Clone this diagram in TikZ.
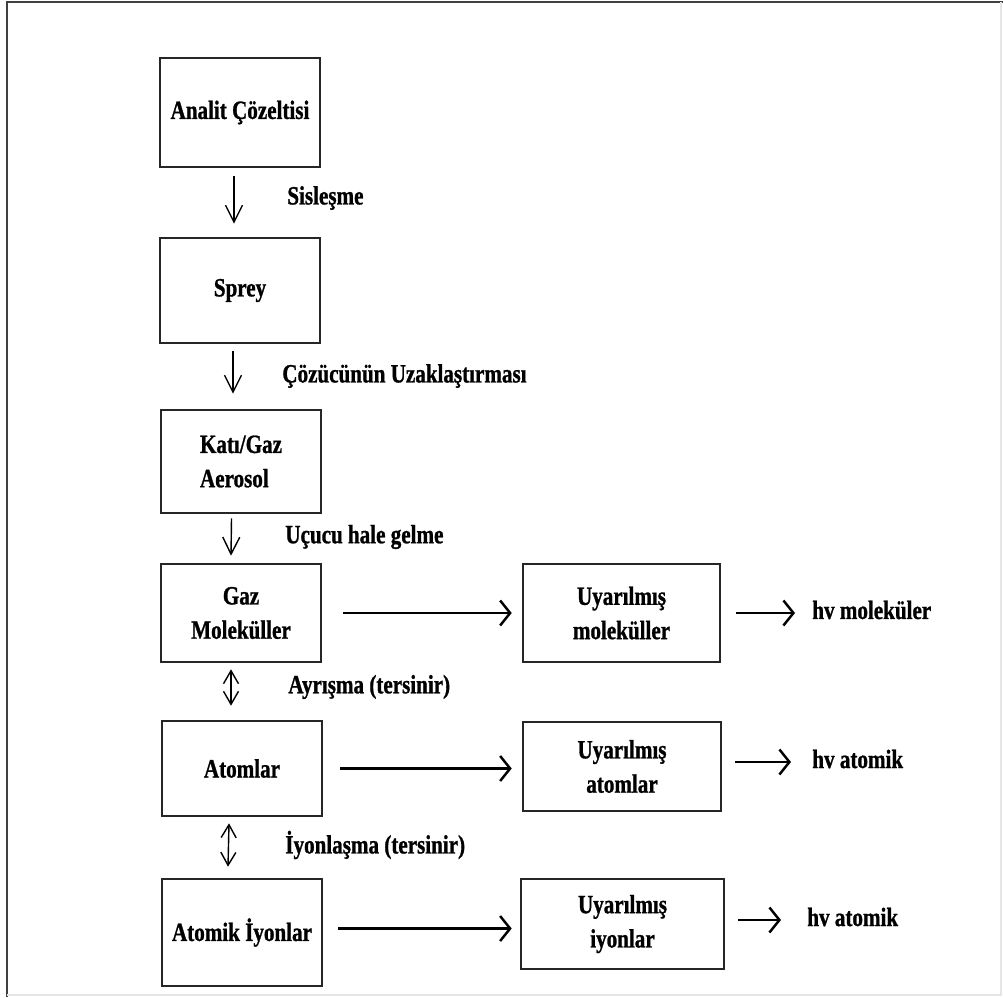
\documentclass[tikz,border=0pt]{standalone}
\usepackage{fontspec}
\setmainfont{Liberation Serif}[FakeStretch=0.8, BoldFeatures={FakeBold=1}]
\usetikzlibrary{arrows.meta,calc}

\begin{document}
\begin{tikzpicture}[
  x=0.02cm, y=-0.02cm,
  box/.style={draw=black!85, line width=1.5pt, minimum width=3.2cm,
    align=center, inner sep=2pt, font=\fontsize{15}{19.5}\selectfont\bfseries},
  lbl/.style={anchor=west, inner sep=0pt,
    font=\fontsize{15}{19.5}\selectfont\bfseries},
  varrow/.style={-{Straight Barb[length=3.4mm,width=3.4mm]}, line width=0.8pt},
  darrow/.style={{Straight Barb[length=2.6mm,width=3mm]}-{Straight Barb[length=2.6mm,width=3mm]},
    line width=0.8pt},
  harrow/.style={-{Straight Barb[length=2mm,width=5mm]}, line width=1.4pt},
]
  \useasboundingbox (0,0) rectangle (1003,997);

  % Frame
  \draw[line width=1.5pt, black!75] (7,997) -- (7,2) -- (1003,2);
  \draw[line width=0.6pt, black!10] (1001,2) -- (1001,995) -- (7,995);

  % Left column
  \node[box, minimum height=2.18cm] (analit) at (240,112.5) {Analit Çözeltisi};
  \node[box, minimum height=2.1cm] (sprey) at (240,290.5) {Sprey};
  \node[box, minimum height=2.06cm, align=left] (aerosol) at (241,461.5)
    {Katı/Gaz\\Aerosol};
  \node[box, minimum height=1.96cm] (gaz) at (241,613) {Gaz\\Moleküller};
  \node[box, minimum height=1.9cm] (atom) at (242,768.5) {Atomlar};
  \node[box, minimum height=2.14cm] (iyon) at (242,932.5) {Atomik İyonlar};

  % Right column
  \node[box, minimum width=3.94cm, minimum height=1.96cm] (umol) at (621.5,613)
    {Uyarılmış\\moleküller};
  \node[box, minimum width=3.96cm, minimum height=1.78cm] (uatom) at (622,766.5)
    {Uyarılmış\\atomlar};
  \node[box, minimum width=4.06cm, minimum height=1.8cm] (uiyon) at (622.5,924)
    {Uyarılmış\\iyonlar};

  % Step labels
  \node[lbl] (sis) at (287,198) {Sisleşme};
  \node[lbl] (coz) at (282,376) {Çözücünün Uzaklaştırması};
  \node[lbl] (ucu) at (285,537) {Uçucu hale gelme};
  \node[lbl] (ayr) at (288,687) {Ayrışma (tersinir)};
  \node[lbl] (iyl) at (285,845) {İyonlaşma (tersinir)};

  % Emission labels
  \node[lbl] (hvmol) at (812,610) {hv moleküler};
  \node[lbl] (hvatom) at (812,759) {hv atomik};
  \node[lbl] (hviyon) at (807,917) {hv atomik};

  % Vertical arrows
  \draw[varrow] ($(analit.south)+(-6,8)$) -- ($(sprey.north)+(-6,-13)$);
  \draw[varrow] ($(sprey.south)+(-7,7)$) -- ($(aerosol.north)+(-8,-15)$);
  \draw[varrow] ($(aerosol.south)+(-9.5,4)$) -- ($(gaz.north)+(-10,-7)$);
  \draw[darrow] ($(gaz.south)+(-10,6)$) -- ($(atom.north)+(-11,-14)$);
  \draw[darrow] ($(atom.south)+(-13,6)$) -- ($(iyon.north)+(-14,-11)$);

  % Horizontal arrows
  \draw[harrow] ($(gaz.east)+(21,0)$) -- ($(umol.west)+(-10,0)$);
  \draw[harrow] ($(atom.east)+(17,0)$) -- ($(atom.east -| uatom.west)+(-10,0)$);
  \draw[harrow] ($(iyon.east)+(15,-4)$) -- ($(iyon.east -| uiyon.west)+(-8,-4)$);
  \draw[harrow] ($(umol.east)+(15,0)$) -- ($(hvmol.west |- umol.east)+(-17,0)$);
  \draw[harrow] ($(uatom.east)+(13,-4.5)$) -- ($(hvatom.west |- uatom.east)+(-21,-4.5)$);
  \draw[harrow] ($(uiyon.east)+(13,-4)$) -- ($(hviyon.west |- uiyon.east)+(-26,-4)$);
\end{tikzpicture}
\end{document}
